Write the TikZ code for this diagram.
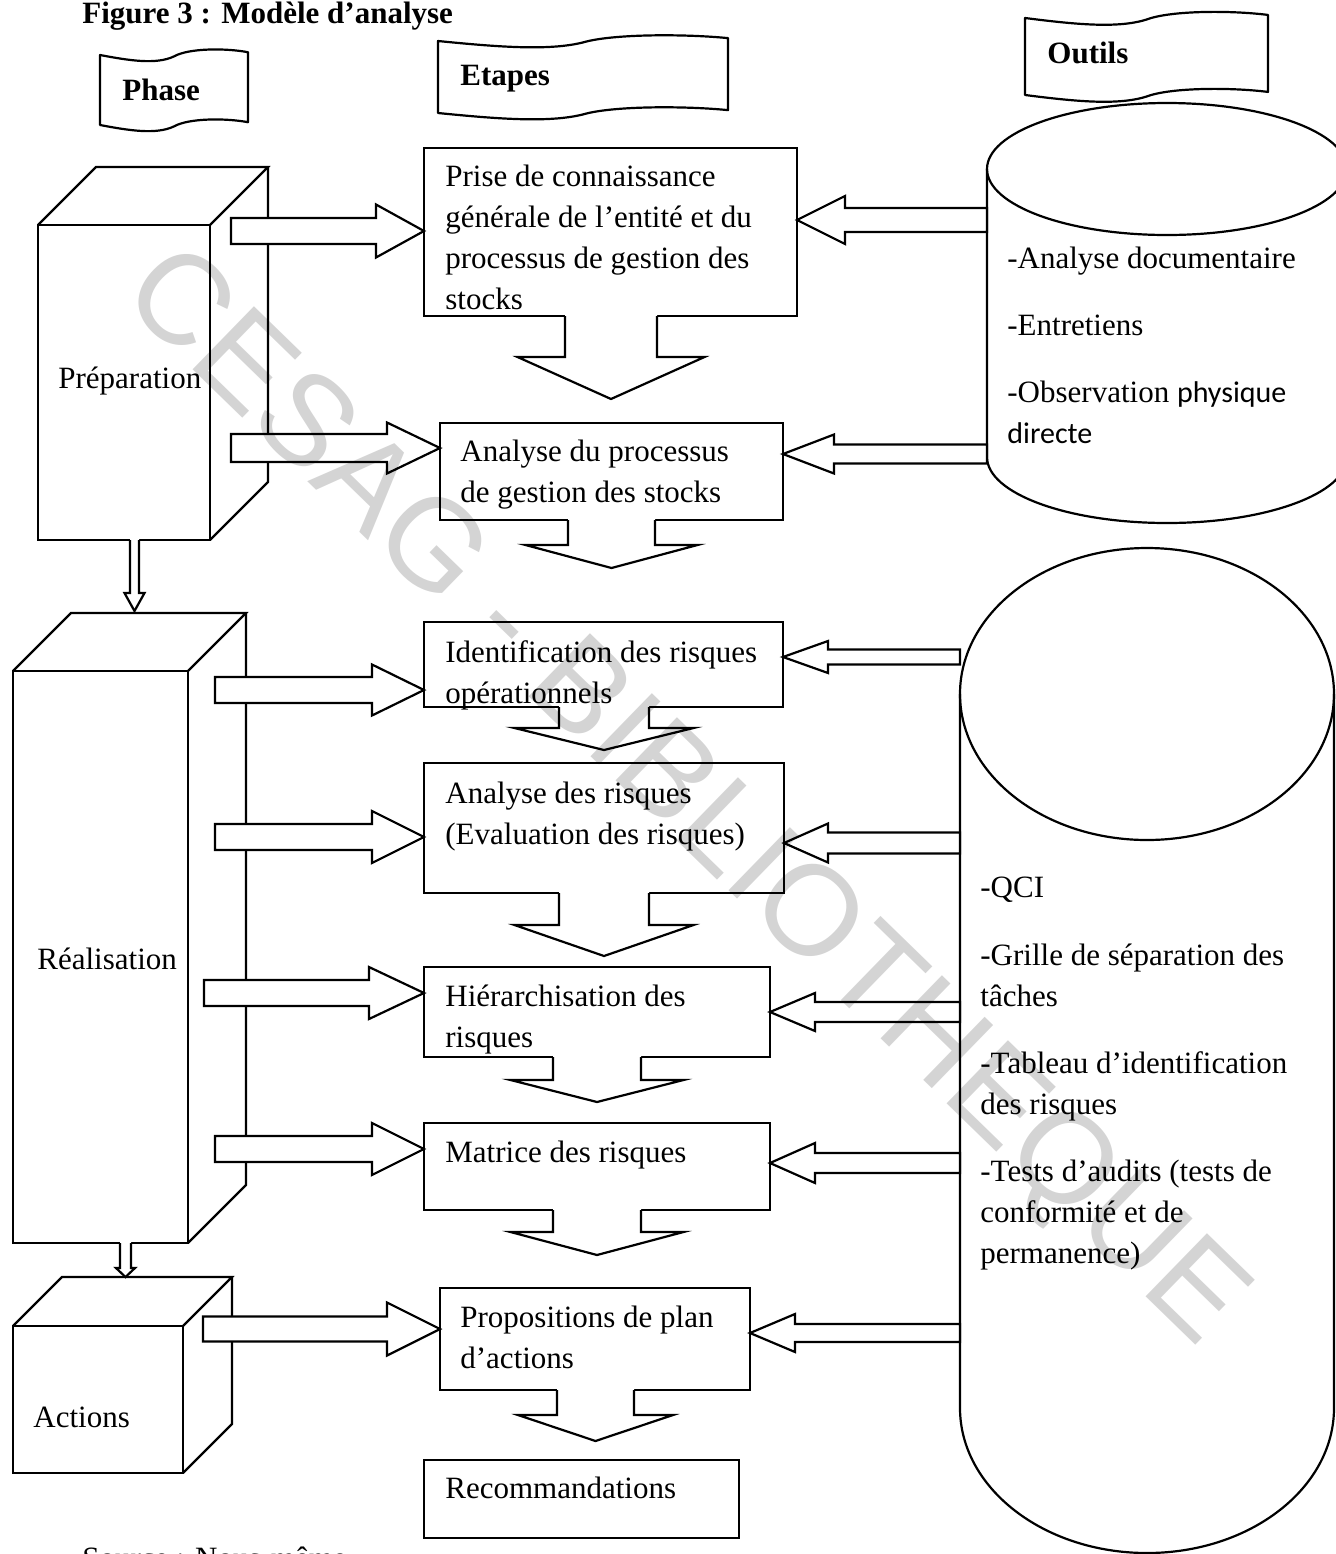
\documentclass[tikz,border=0pt]{standalone}
\usepackage{fontspec}
\setmainfont{Liberation Serif}
\newfontfamily\calfont{Carlito}
\newfontfamily\wmfont{Liberation Sans}
\usetikzlibrary{fit,calc}
\newcommand\myfont{\fontsize{15.5}{20.5}\selectfont}
\newcommand\myfontb{\fontsize{15.5}{20.5}\selectfont\bfseries}
\tikzset{
 ln/.style={line width=1.1pt, line join=miter, line cap=butt},
 stepbox/.style={draw, line width=1.1pt, inner sep=0pt, outer sep=0pt},
 blk/.style={draw, fill=white, line width=1.1pt, line join=miter},
 txt/.style={anchor=north west, inner sep=0pt, align=left, font=\myfont},
 lbl/.style={anchor=base west, inner sep=0pt, font=\myfont},
 hdr/.style={anchor=base west, inner sep=0pt, font=\myfontb},
}
% horizontal block arrow: tail x, head-back x, target node anchor, centre y, shaft half, head half
\newcommand\hblock[6]{\draw[blk] (#1,{#4-#5}) -- (#2,{#4-#5}) -- (#2,{#4-#6}) -- (#3 |- 0,#4) -- (#2,{#4+#6}) -- (#2,{#4+#5}) -- (#1,{#4+#5}) -- cycle;}
% vertical block arrow (open top): centre x, tail y, head-back y, tip y, shaft half, head half
\newcommand\vblock[6]{%
 \fill[white] ({#1-#5},{#2-2}) -- ({#1-#5},#3) -- ({#1-#6},#3) -- (#1,#4) -- ({#1+#6},#3) -- ({#1+#5},#3) -- ({#1+#5},{#2-2}) -- cycle;
 \draw[ln] ({#1-#5},#2) -- ({#1-#5},#3) -- ({#1-#6},#3) -- (#1,#4) -- ({#1+#6},#3) -- ({#1+#5},#3) -- ({#1+#5},#2);}
% wave banner: x, y, w, h
\newcommand\wavebanner[4]{\begin{scope}[shift={(#1,#2)},xscale=#3,yscale=#4]
 \draw[ln, line join=round] (0,0) .. controls (0.2,0.08) and (0.38,0.14) .. (0.5,0.02) .. controls (0.6,-0.1) and (0.85,-0.1) .. (1,-0.04) -- (1,0.96) .. controls (0.85,0.9) and (0.6,0.9) .. (0.5,1.02) .. controls (0.38,1.14) and (0.2,1.08) .. (0,1) -- cycle;
\end{scope}}
% cube: name, x1, y1, x2, y2, depth
\newcommand\mycube[6]{%
 \node[stepbox, fit={(#2,#3) (#4,#5)}] (#1) {};
 \draw[ln] (#1.north west) -- ++(#6,-#6) -- ($(#1.north east)+(#6,-#6)$) -- (#1.north east);
 \draw[ln] ($(#1.north east)+(#6,-#6)$) -- ($(#1.south east)+(#6,-#6)$) -- (#1.south east);}
\begin{document}
\begin{tikzpicture}[x=0.5pt,y=-0.5pt]
\useasboundingbox (0,0) rectangle (1336,1554);

% title
\node[hdr] (title) at (82,23) {Figure 3 : Modèle d’analyse};

% banners
\wavebanner{100}{55}{148}{70}
\node[hdr] (hphase) at (122,100) {Phase};
\wavebanner{438}{41}{290}{72}
\node[hdr] (hetapes) at (460,85) {Etapes};
\wavebanner{1025}{18}{243}{77}
\node[hdr] (houtils) at (1047,63) {Outils};

% cylinders
\coordinate (cyl1) at (1167,169);
\draw[ln] (cyl1) ellipse [x radius=180, y radius=66];
\draw[ln] (987,169) -- (987,457) arc[start angle=180, end angle=0, x radius=180, y radius=66] -- (1347,169);
\coordinate (cyl2) at (1147,694);
\draw[ln] (cyl2) ellipse [x radius=187, y radius=146];
\draw[ln] (960,694) -- (960,1408) arc[start angle=180, end angle=0, x radius=187, y radius=145] -- (1334,694);

\node[lbl] (o1) at (1007,268) {-Analyse documentaire};
\node[lbl] (o2) at (1007,335) {-Entretiens};
\node[txt] (o3) at (1007,373.3) {\strut-Observation {\calfont\fontsize{15}{20.5}\selectfont physique}\\{\calfont\fontsize{15}{20.5}\selectfont directe}};

\node[lbl] (q1) at (980,897) {-QCI};
\node[txt] (q2) at (980,936.3) {\strut-Grille de séparation des\\tâches};
\node[txt] (q3) at (980,1044.3) {\strut-Tableau d’identification\\des risques};
\node[txt] (q4) at (980,1152.3) {\strut-Tests d’audits (tests de\\conformité et de\\permanence)};

% cubes
\mycube{prep}{38}{225}{210}{540}{58}
\node[lbl] (tprep) at (58,388) {Préparation};
\mycube{real}{13}{671}{188}{1243}{58}
\node[lbl] (treal) at (37,969) {Réalisation};
\mycube{act}{13}{1326}{183}{1473}{49}
\node[lbl] (tact) at (33,1427) {Actions};

% step boxes
\node[stepbox, fit={(424,148) (797,316)}] (b1) {};
\node[txt] (t1) at (445,157.3) {\strut Prise de connaissance\\générale de l’entité et du\\processus de gestion des\\stocks};
\node[stepbox, fit={(440,423) (783,520)}] (b2) {};
\node[txt] (t2) at (460,432.3) {\strut Analyse du processus\\de gestion des stocks};
\node[stepbox, fit={(424,622) (783,707)}] (b3) {};
\node[txt] (t3) at (445,633.3) {\strut Identification des risques\\opérationnels};
\node[stepbox, fit={(424,763) (784,893)}] (b4) {};
\node[txt] (t4) at (445,774.3) {\strut Analyse des risques\\(Evaluation des risques)};
\node[stepbox, fit={(424,967) (770,1057)}] (b5) {};
\node[txt] (t5) at (445,977.3) {\strut Hiérarchisation des\\risques};
\node[stepbox, fit={(424,1123) (770,1210)}] (b6) {};
\node[lbl] (t6) at (445,1162) {Matrice des risques};
\node[stepbox, fit={(440,1288) (750,1390)}] (b7) {};
\node[txt] (t7) at (460,1298.3) {\strut Propositions de plan\\d’actions};
\node[stepbox, fit={(424,1460) (739,1538)}] (b8) {};
\node[lbl] (t8) at (445,1498) {Recommandations};

% down arrows between steps
\vblock{611}{316}{357}{399}{46}{93.5}
\vblock{611.5}{520}{545}{568}{43.5}{86}
\vblock{604}{707}{728}{750}{45}{89.5}
\vblock{604}{893}{925}{956}{45}{89.5}
\vblock{597}{1057}{1080}{1102}{44}{86.5}
\vblock{597}{1210}{1232}{1255}{44}{86.5}
\vblock{595.5}{1390}{1415}{1441}{38.5}{77.5}

% small arrows between phases
\vblock{134.5}{540}{593}{611}{4.5}{10}
\vblock{125.5}{1243}{1268}{1277}{5.5}{9.5}

% arrows from phases to steps
\hblock{231}{376}{b1.west}{231}{13}{26.5}
\hblock{231}{387}{b2.west}{448}{14}{25.5}
\hblock{215}{372}{b3.west}{690}{13}{25.5}
\hblock{215}{372}{b4.west}{837}{13}{26}
\hblock{204}{369}{b5.west}{993}{13}{26}
\hblock{215}{372}{b6.west}{1149}{13}{26}
\hblock{203}{387}{b7.west}{1329}{12.5}{26.5}

% arrows from tools to steps
\hblock{987}{845}{b1.east}{220}{12}{24}
\hblock{987}{834}{b2.east}{454}{9.5}{19.5}
\hblock{960}{828}{b3.east}{657}{7.5}{16}
\hblock{960}{828}{b4.east}{843}{10.5}{19.5}
\hblock{960}{815}{b5.east}{1012}{10}{19}
\hblock{960}{815}{b6.east}{1163}{10}{20}
\hblock{960}{795}{b7.east}{1333}{9}{19}

% source (cut by the page edge)
\node[lbl] (src) at (82,1568) {Source : Nous-même};

% watermark
\begin{scope}[blend mode=multiply]
\node[rotate=-44.2, text=black!17, font=\wmfont\fontsize{64}{64}\selectfont, inner sep=0pt] (wm) at (682,800) {CESAG - BIBLIOTHEQUE};
\end{scope}
\end{tikzpicture}
\end{document}
